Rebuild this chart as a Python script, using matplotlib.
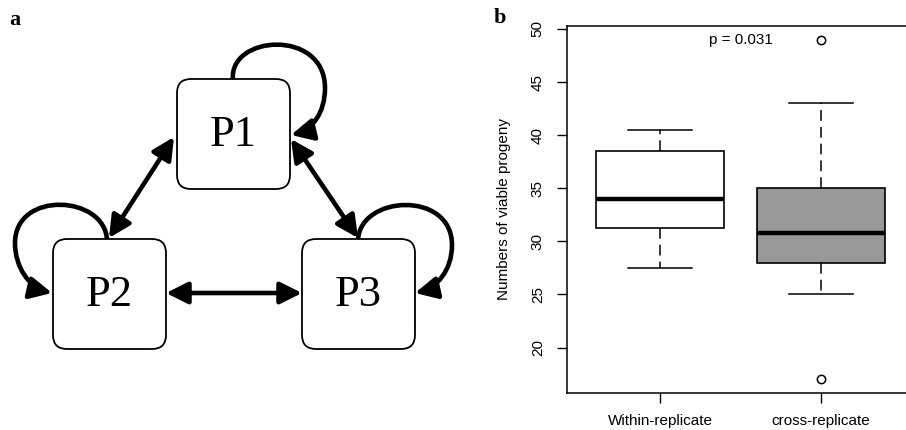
import matplotlib
matplotlib.use("Agg")
import matplotlib.pyplot as plt
from matplotlib.patches import FancyBboxPatch, FancyArrowPatch
from matplotlib.path import Path

# ---- data (panel b) ----
groups = ["Within-replicate", "cross-replicate"]
whislo = [27.5, 25.0]
q1 = [31.25, 28.0]
med = [34.0, 30.75]
q3 = [38.5, 35.0]
whishi = [40.5, 43.0]
fliers = [[], [49.0, 17.0]]
box_colors = ["white", "#999999"]
p_text = "p = 0.031"

# ---- panel a nodes ----
nodes = ["P1", "P2", "P3"]

fig = plt.figure(figsize=(9.06, 4.30), dpi=100)

# panel a: drawn in pixel coordinates
ax_a = fig.add_axes([0, 0, 470 / 906, 1])
ax_a.set_xlim(0, 470)
ax_a.set_ylim(430, 0)
ax_a.axis("off")

boxes = {"P1": (177, 79), "P2": (53, 239), "P3": (302, 239)}
bw, bh = 113, 110
for name in nodes:
    x, y = boxes[name]
    ax_a.add_patch(FancyBboxPatch((x, y), bw, bh,
                                  boxstyle="round,pad=0,rounding_size=14",
                                  fc="white", ec="black", lw=1.3, zorder=3))
    ax_a.text(x + bw / 2, y + bh / 2 + 1, name, fontsize=32,
              family="Liberation Serif", ha="center", va="center", zorder=4)

arrow_kw = dict(arrowstyle="<|-|>,head_length=0.6,head_width=0.3",
                mutation_scale=22, lw=3.3, color="black",
                shrinkA=0, shrinkB=0, zorder=2)
ax_a.add_patch(FancyArrowPatch((174, 137), (109, 238), **arrow_kw))
ax_a.add_patch(FancyArrowPatch((291, 139), (358, 238), **arrow_kw))
ax_a.add_patch(FancyArrowPatch((166, 293), (302, 293), **arrow_kw))

# self loops
loop_kw = dict(arrowstyle="-|>,head_length=0.6,head_width=0.3",
               mutation_scale=22, lw=3.3, color="black", zorder=2)
codes = [Path.MOVETO, Path.CURVE4, Path.CURVE4, Path.CURVE4,
         Path.CURVE4, Path.CURVE4, Path.CURVE4]
loops = [
    [(233, 80), (228, 35), (325, 28), (325, 88), (325, 113), (312, 130), (291, 135)],
    [(107, 240), (105, 195), (15, 190), (15, 243), (15, 268), (30, 288), (52, 293)],
    [(358, 240), (360, 195), (452, 190), (452, 245), (452, 270), (437, 288), (415, 293)],
]
for verts in loops:
    ax_a.add_patch(FancyArrowPatch(path=Path(verts, codes), **loop_kw))

fig.text(15 / 906, 1 - 20 / 430, "a", fontsize=16, fontweight="bold",
         family="Liberation Serif", ha="center", va="center")
fig.text(500 / 906, 1 - 18 / 430, "b", fontsize=16, fontweight="bold",
         family="Liberation Serif", ha="center", va="center")

# panel b: boxplot
ax = fig.add_axes([567 / 906, 37 / 430, 1 - 567 / 906, 367 / 430])
stats = []
for i, g in enumerate(groups):
    stats.append(dict(label=g, whislo=whislo[i], q1=q1[i], med=med[i],
                      q3=q3[i], whishi=whishi[i], fliers=fliers[i]))
bp = ax.bxp(stats, positions=[1, 2], widths=0.8, patch_artist=True,
            boxprops=dict(lw=1.2, ec="black"),
            medianprops=dict(lw=3.2, color="black"),
            whiskerprops=dict(lw=1.1, color="black", dashes=(7, 4)),
            capprops=dict(lw=1.1, color="black"),
            flierprops=dict(marker="o", mfc="none", mec="black", ms=6, mew=1.1))
for patch, c in zip(bp["boxes"], box_colors):
    patch.set_facecolor(c)
for cap in bp["caps"]:
    xd = cap.get_xdata()
    c = (xd[0] + xd[1]) / 2
    cap.set_xdata([c - 0.2, c + 0.2])

ax.set_xlim(0.422, 2.528)
ax.set_ylim(15.72, 50.28)
ax.set_yticks([20, 25, 30, 35, 40, 45, 50])
ax.set_xticks([1, 2])
ax.set_xticklabels(groups)
for lab in ax.get_yticklabels():
    lab.set_rotation(90)
    lab.set_va("center")
ax.tick_params(length=7, width=1, labelsize=11, pad=8)
ax.tick_params(axis="y", pad=9)
for lab in ax.get_xticklabels() + ax.get_yticklabels():
    lab.set_family("Liberation Sans")
ax.spines["right"].set_visible(False)
for s in ["left", "top", "bottom"]:
    ax.spines[s].set_linewidth(1.1)
ax.text(-0.186, 0.5, "Numbers of viable progeny", transform=ax.transAxes,
        rotation=90, ha="center", va="center", fontsize=11,
        family="Liberation Sans")
ax.text(1.5, 49.0, p_text, ha="center", va="center", fontsize=11,
        family="Liberation Sans")

fig.savefig("out.png", dpi=100)
